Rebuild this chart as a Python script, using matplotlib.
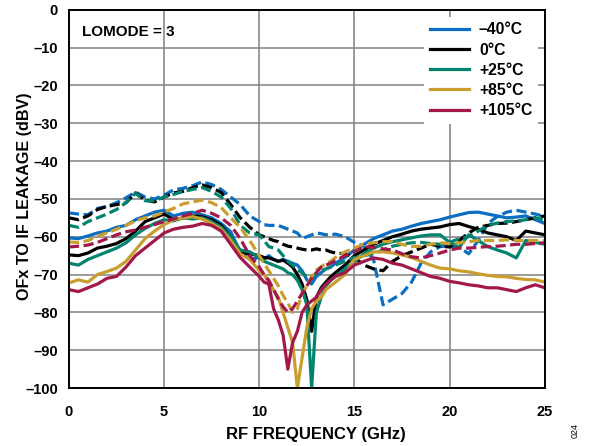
import matplotlib

matplotlib.use("Agg")
import matplotlib.pyplot as plt  # noqa: E402
from matplotlib.ticker import FuncFormatter  # noqa: E402
import numpy as np  # noqa: E402

plt.rcParams["font.family"] = ["Liberation Sans", "DejaVu Sans"]

# frequency grid (GHz), denser around the LO notch
freq_ghz = np.concatenate([
    np.arange(0, 10, 0.5),
    np.arange(10, 14.01, 0.25),
    np.arange(14.5, 25.01, 0.5),
])

temps = ["\u201340\u00b0C", "0\u00b0C", "+25\u00b0C", "+85\u00b0C", "+105\u00b0C"]
colors = ["#0a6fc2", "#000000", "#00836f", "#c99d2e", "#a3184a"]

# solid traces (dBV)
m40_solid = [-60.3, -60.5, -59.8, -59, -58.5, -57.5, -57, -55.5, -54.5, -53.5,
             -53, -54.5, -53.8, -53.5, -54.2, -55, -56.5, -58.7, -64, -66,
             -65.5, -66, -65, -66, -66.5, -66, -66.5, -67, -67.5, -69, -71.4, -72.5, -70.5,
             -69.5, -68.5, -68, -67,
             -65.5, -63.5, -62, -60.5, -59.5, -58.5, -58, -57.2, -56.5, -56, -55.5, -54.8,
             -54.2, -53.6, -53.5, -54, -54.5, -55, -54.8, -54.5, -55.5, -56.5]
p0_solid = [-64.8, -65, -64.3, -63, -62.5, -61.8, -60.5, -58.5, -56, -55,
            -54, -55.5, -55, -54.5, -54.7, -55.5, -57, -60, -64.3, -64.5,
            -65, -65.5, -65.6, -66, -66.5, -66.2, -67, -68, -70, -72.5, -76.7, -85, -76,
            -73.5, -72, -70.6, -69.5,
            -67.5, -65, -63.5, -62, -61, -60, -59.3, -58.5, -58, -57.7, -57.4, -56.8,
            -56.5, -57.3, -58, -59, -59.5, -60, -61, -58.5, -59, -59.5]
p25_solid = [-67, -67.5, -66, -65, -64, -63, -61.6, -59.5, -57.8, -56.5,
             -55.5, -55.8, -55, -55.3, -55, -56, -57.5, -60, -63.5, -64,
             -65.5, -66.5, -67, -67.5, -68, -68.5, -69.5, -70, -71.5, -74, -78, -100, -80,
             -76, -73, -71.5, -70.5,
             -68.5, -66.6, -64.5, -63, -62, -61.3, -60.8, -60.3, -59.8, -59.5, -59.5, -61.5,
             -62.8, -59.5, -61, -62.6, -63.5, -64.3, -65.6, -61, -61.5, -62]
p85_solid = [-72.2, -71.4, -72, -70, -69.2, -68.3, -66.5, -63.5, -60.5, -58.5,
             -56.8, -55.5, -55, -54.7, -55.3, -56.5, -58, -61, -64.5, -66,
             -69, -70, -72, -74, -76, -80, -84, -88, -100, -92, -84, -79, -77,
             -76, -74, -73, -72,
             -70, -66, -65, -64, -64, -64.3, -64.8, -65.5, -66.5, -67.5, -68.3, -68.5,
             -69, -69.3, -69.8, -70.2, -70.5, -70.6, -71, -71.3, -71.4, -72]
p105_solid = [-74, -74.5, -73.5, -72.5, -71, -70.5, -68, -65, -63, -61,
              -59, -58, -57.5, -57.2, -56.5, -57, -58.5, -62, -65.5, -68,
              -70.5, -72, -72.5, -79, -82, -86, -95, -88, -85, -80, -78, -77, -76,
              -74, -72.5, -71.5, -70.5,
              -69.5, -67.5, -66.5, -65.6, -66, -67, -67.5, -68.5, -69.5, -70.5, -71, -71.8,
              -72.2, -72.7, -73, -73.5, -73.5, -74, -74.5, -73.5, -72.7, -73.5]

# dashed traces (dBV)
m40_dashed = [-53.7, -54, -54.2, -52.5, -52, -51, -49.7, -48.2, -49.5, -50,
              -49, -47.6, -47.2, -46.5, -45.5, -46.2, -47.5, -49.5, -51.5, -54.5,
              -56, -56.8, -57, -57, -57, -57.5, -58, -58.5, -59, -60.5, -60, -59.5, -59,
              -59.2, -59.5, -59.5, -59.3,
              -60, -61.5, -62.6, -66, -78, -76.5, -75, -72, -67, -64, -62.6, -62.5,
              -62.8, -64.5, -61, -56.5, -54.7, -53.5, -53, -53.5, -54, -54.7]
p0_dashed = [-55, -55.5, -54.5, -52.8, -52, -51.5, -51, -48.4, -50.3, -50.8,
             -49.5, -48.4, -48, -47, -46.3, -47, -48.3, -51.5, -55, -57.5,
             -59.5, -60, -60.5, -61, -61.3, -62, -62.5, -62.7, -63, -63.3, -63.5, -63.5, -63.2,
             -63.5, -63.5, -64, -64.3,
             -64.5, -65.5, -67.5, -68.5, -69, -66.5, -65, -64, -63, -62, -62.5, -62.7,
             -61, -59, -57.5, -57, -56.5, -56.4, -56, -55.5, -55, -54.5]
p25_dashed = [-57, -57.5, -56, -55, -54, -52.8, -51, -48.5, -50.5, -50.5,
              -49.5, -48.8, -48, -47.5, -47, -48, -49.5, -52.5, -57, -59,
              -59.5, -61, -62.6, -63, -63.5, -65, -66.5, -67.5, -68.8, -69.5, -70.6, -71, -69.6,
              -69, -68.5, -68, -67.5,
              -66.5, -65.5, -65, -64.5, -63.5, -62.5, -62, -61.6, -61.5, -61.8, -62, -61.5,
              -60.5, -60, -58.5, -57, -56.4, -56, -55.8, -55.5, -55, -55.5]
p85_dashed = [-61.4, -61.5, -61, -59.8, -59, -58, -57, -55.8, -55, -54.5,
              -53.5, -52.5, -51.3, -50.8, -50.3, -51, -52.3, -55, -57.5, -61,
              -65, -67, -69, -71, -73, -75.5, -77.5, -80, -79, -75, -73, -70.5, -68.8,
              -68, -67, -66.5, -65.5,
              -64, -63, -62, -61.6, -61.3, -61.3, -62, -62.6, -62.5, -62, -61.6, -61.8,
              -61.6, -61.3, -61, -61, -61, -60.8, -61, -61, -61, -61]
p105_dashed = [-62.7, -62.5, -62.2, -61.5, -60.5, -59.5, -58.7, -58.2, -57.5, -56.8,
               -56, -55.3, -54.5, -53.8, -53, -53.8, -55, -57, -60.5, -65,
               -68, -70, -71.5, -74, -76.5, -78.5, -80, -79, -77, -75, -73, -71, -69.5,
               -68, -67.5, -67, -66.3,
               -65, -64, -62.6, -62.8, -63.2, -63.5, -64.5, -65.3, -65.6, -65, -64.3, -63.5,
               -63, -63, -62.8, -62.6, -62.5, -62.3, -62, -62, -61.8, -61.6]

solid_traces = [m40_solid, p0_solid, p25_solid, p85_solid, p105_solid]
dashed_traces = [m40_dashed, p0_dashed, p25_dashed, p85_dashed, p105_dashed]

x_ticks = [0, 5, 10, 15, 20, 25]
y_ticks = list(range(-100, 1, 10))

fig = plt.figure(figsize=(5.89, 4.46), dpi=100)
ax = fig.add_axes([0.117, 0.130, 0.808, 0.848])

for label, color, solid, dashed in zip(temps, colors, solid_traces, dashed_traces):
    ax.plot(freq_ghz, solid, color=color, lw=2.3, label=label)
    ax.plot(freq_ghz, dashed, color=color, lw=2.3, dashes=(3.2, 1.4))

ax.set_xlim(0, 25)
ax.set_ylim(-100, 0)
ax.set_xticks(x_ticks)
ax.set_yticks(y_ticks)
ax.yaxis.set_major_formatter(FuncFormatter(lambda v, _: f"{int(v)}".replace("-", "\u2013")))
ax.grid(True, color="#808080", lw=1.1)
ax.set_axisbelow(True)
ax.tick_params(length=0, labelsize=10.5)
ax.tick_params(axis="x", pad=12)
ax.tick_params(axis="y", pad=8)
for lbl in ax.get_xticklabels() + ax.get_yticklabels():
    lbl.set_fontweight("bold")
for sp in ax.spines.values():
    sp.set_linewidth(1.4)

ax.set_xlabel("RF FREQUENCY (GHz)", fontsize=12, fontweight="bold")
ax.set_ylabel("OFx TO IF LEAKAGE (dBV)", fontsize=11.6, fontweight="bold")
ax.xaxis.set_label_coords(0.519, -0.103)
ax.yaxis.set_label_coords(-0.078, 0.507)
ax.text(0.7, -5.8, "LOMODE = 3", fontsize=11, fontweight="bold", va="center")

leg = ax.legend(loc="upper right", fontsize=11.3, frameon=True, fancybox=False,
                handlelength=2.5, handletextpad=0.64, labelspacing=0.33,
                borderaxespad=0.45, borderpad=0.35)
leg.get_frame().set_edgecolor("none")
leg.get_frame().set_facecolor("white")
leg.get_frame().set_alpha(1.0)
for t in leg.get_texts():
    t.set_fontweight("bold")

fig.text(0.976, 0.018, "024", rotation=90, fontsize=6.5, ha="center", va="bottom")

fig.savefig("out.png", dpi=100)
